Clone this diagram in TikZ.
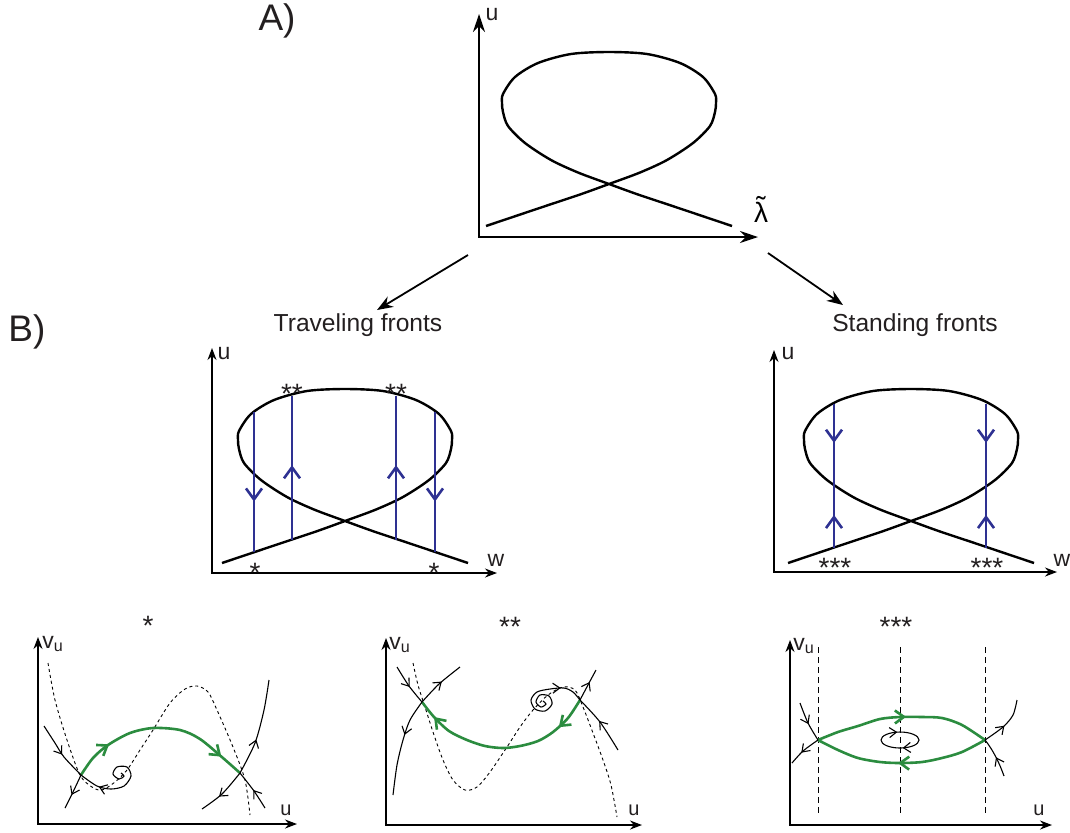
\documentclass[tikz,border=0pt]{standalone}
\usepackage{fontspec}
\setmainfont{Liberation Sans}
\usepackage{tikz}
\usetikzlibrary{arrows.meta,decorations.markings}
\definecolor{frblue}{HTML}{2E3192}
\definecolor{frgreen}{HTML}{2B8C3F}
\definecolor{frink}{HTML}{231F20}
\tikzset{
  axes/.style={{Stealth[length=6pt,width=4.5pt]}-{Stealth[length=6pt,width=4.5pt]}, line width=0.6pt},
  bigaxes/.style={{Stealth[length=9pt,width=6pt]}-{Stealth[length=9pt,width=6pt]}, line width=0.7pt},
  ar/.style={-{Stealth[length=8pt,width=6pt]}, line width=0.9pt},
  branch/.style={line width=1.2pt},
  jump/.style={draw=frblue, line width=1.3pt, >={Straight Barb[length=5.5pt,width=8pt]}},
  orbit/.style={draw=frgreen, line width=1.3pt, >={Straight Barb[length=4.5pt,width=6.5pt]}},
  mani/.style={line width=0.55pt, >={Straight Barb[length=3.5pt,width=5pt]}},
  ncline/.style={line width=0.45pt, dash pattern=on 1.5pt off 1.5pt},
  vline/.style={line width=0.45pt, dash pattern=on 3pt off 2pt},
  flow/.style={postaction={decorate, decoration={markings, mark=at position #1 with {\arrow{>}}}}},
  backflow/.style={postaction={decorate, decoration={markings, mark=at position #1 with {\arrowreversed{>}}}}},
  big/.style={font=\fontsize{18.5}{22}\selectfont, text=frink, inner sep=0pt},
  ttl/.style={font=\fontsize{12.3}{14}\selectfont, text=frink, inner sep=0pt},
  axl/.style={font=\fontsize{11.5}{13}\selectfont, text=frink, inner sep=0pt},
  sml/.style={font=\fontsize{10}{12}\selectfont, text=frink, inner sep=0pt},
  stars/.style={font=\fontsize{14}{16}\selectfont, text=frink, inner sep=0pt},
  frloop/.pic={
    \draw[branch] plot[smooth] coordinates {(0,0) (61,-20.5) (94,-31.5) (123,-42) (154,-53.5) (181,-66) (207,-83)
      (224,-100) (229,-114) (230,-123) (229,-132) (217,-149) (194,-163) (161,-172) (123,-174) (85,-172) (52,-163)
      (29,-149) (17,-132) (16,-123) (17,-114) (22,-100) (39,-83) (65,-66) (92,-53.5) (123,-42) (152,-31.5)
      (185,-20.5) (246,0)};
  },
}

\begin{document}
\begin{tikzpicture}[x=0.5pt,y=-0.5pt]
\useasboundingbox (0,0) rectangle (1070,832);

% --- A) bifurcation loop
\node[big] (labA) at (277,21) {A)};
\draw[bigaxes] (479,14) -- (479,237) -- (758,237);
\node[axl] (uA) at (492,15) {u};
\node[font=\fontsize{14}{16}\selectfont, inner sep=0pt] (lamA) at (761,212)
  {\ooalign{λ\cr\hidewidth\raisebox{0.2em}{\char"02DC}\hidewidth\cr}};
\pic (loopA) at (486,226) {frloop};

\coordinate (fromL) at (468,255); \coordinate (toL) at (377,310);
\coordinate (fromR) at (768,253); \coordinate (toR) at (843,305);
\draw[ar] (fromL) -- (toL);
\draw[ar] (fromR) -- (toR);

% --- B) front types
\node[big] (labB) at (27,332) {B)};
\node[ttl] (trav) at (358,325) {Traveling fronts};
\node[ttl] (stand) at (915,325) {Standing fronts};

% traveling fronts
\draw[axes] (212,348) -- (212,573) -- (497,573);
\node[axl] (uT) at (224,354) {u};
\node[axl] (wT) at (496,560) {w};
\pic (loopT) at (222,563) {frloop};
\draw[jump,flow=0.64] (254,412) -- (254,552);
\draw[jump,flow=0.52] (292,540) -- (292,396);
\draw[jump,flow=0.52] (396,540) -- (396,396);
\draw[jump,flow=0.64] (435,412) -- (435,552);
\node[stars] (sT1) at (292,394) {**};
\node[stars] (sT2) at (396,394) {**};
\node[stars] (sT3) at (255,573) {*};
\node[stars] (sT4) at (434,573) {*};

% standing fronts
\draw[axes] (774,350) -- (774,572) -- (1057,572);
\node[axl] (uS) at (788,354) {u};
\node[axl] (wS) at (1062,560) {w};
\pic (loopS) at (788,563) {frloop};
\draw[jump,flow=0.27,backflow=0.77] (834,404) -- (834,548);
\draw[jump,flow=0.27,backflow=0.77] (986,404) -- (986,548);
\node[stars] (sS1) at (835,568) {***};
\node[stars] (sS2) at (987,568) {***};

% --- phase planes
% *
\node[stars] (p1) at (148,626) {*};
\draw[axes] (38,637) -- (38,824) -- (297,824);
\node[axl] (v1) at (53,644) {v\textsubscript{u}};
\node[sml] (u1) at (286,810) {u};
\draw[ncline] plot[smooth] coordinates {(48,663) (55,700) (67,740) (80,775) (92,787) (102,790) (115,782) (127,770)
  (140,750) (153,730) (170,703) (185,689) (197,686) (208,692) (217,710) (233,747) (245,780) (250,815)};
\draw[orbit,flow=0.22,flow=0.87] plot[smooth] coordinates {(81,775) (93,758) (108,745) (130,733) (153,728) (180,730)
  (200,739) (223,758) (240,773)};
\draw[mani,flow=0.55] plot[smooth] coordinates {(44,726) (55,743) (64,757) (81,775)};
\draw[mani,flow=0.8] plot[smooth] coordinates {(121,773) (124,776) (119,779) (113,774) (117,767) (127,767) (131,776)
  (124,786) (111,789) (97,786) (81,775)};
\draw[mani,flow=0.6] plot[smooth] coordinates {(81,775) (73,792) (65,808)};
\draw[mani,flow=0.6] plot[smooth] coordinates {(240,773) (222,794) (202,809)};
\draw[mani,flow=0.38] plot[smooth] coordinates {(240,773) (255,743) (264,710) (269,680)};
\draw[mani,flow=0.5] plot[smooth] coordinates {(265,808) (254,791) (240,773)};

% **
\node[stars] (p2) at (510,627) {**};
\draw[axes] (386,638) -- (386,825) -- (642,825);
\node[axl] (v2) at (400,645) {v\textsubscript{u}};
\node[sml] (u2) at (634,810) {u};
\draw[ncline] plot[smooth] coordinates {(413,663) (418,685) (425,707) (434,735) (443,760) (453,780) (465,790) (477,787)
  (490,772) (507,747) (520,727) (533,710) (548,695) (563,687) (575,690) (583,707) (593,733) (603,760) (611,785) (617,817)};
\draw[orbit,flow=0.18,flow=0.9] plot[smooth] coordinates {(580,700) (568,718) (553,732) (538,741) (520,746) (503,748)
  (485,746) (467,740) (449,731) (434,717) (422,702)};
\draw[mani,flow=0.55] plot[smooth] coordinates {(397,667) (409,686) (422,702)};
\draw[mani,flow=0.55] plot[smooth] coordinates {(422,702) (439,684) (460,667)};
\draw[mani,flow=0.38] plot[smooth] coordinates {(422,702) (410,720) (403,740) (397,765) (393,795)};
\draw[mani,flow=0.82] plot[smooth] coordinates {(543,701) (546,704) (541,707) (536,702) (540,695) (549,696) (552,704)
  (545,711) (535,709) (531,700) (537,692) (550,689) (564,688) (573,692) (580,700)};
\draw[mani,flow=0.55] plot[smooth] coordinates {(618,750) (600,722) (580,700)};
\draw[mani,flow=0.6] plot[smooth] coordinates {(580,700) (589,683) (596,670)};

% ***
\node[stars] (p3) at (896,627) {***};
\draw[axes] (790,640) -- (790,825) -- (1052,825);
\node[axl] (v3) at (804,646) {v\textsubscript{u}};
\node[sml] (u3) at (1039,810) {u};
\foreach \xv in {818,900,985} \draw[vline] (\xv,647) -- (\xv,813);
\draw[orbit,flow=0.52] plot[smooth] coordinates {(818,740) (838,732) (858,726) (880,719) (900,717) (922,717) (942,718)
  (962,725) (985,740)};
\draw[orbit,flow=0.52] plot[smooth] coordinates {(985,740) (962,752) (942,758) (922,762) (900,763) (880,762) (858,758)
  (838,750) (818,740)};
\draw[mani,flow=0.55] plot[smooth] coordinates {(800,703) (808,723) (818,740)};
\draw[mani,flow=0.6] plot[smooth] coordinates {(818,740) (803,751) (792,763)};
\draw[mani,flow=0.45] plot[smooth] coordinates {(985,740) (1003,727) (1013,715) (1017,700)};
\draw[mani,flow=0.5] (1004,776) .. controls (999,762) and (993,750) .. (985,740);
\draw[mani,flow=0.22,flow=0.72] (900,740) ellipse [x radius=19, y radius=8];
\end{tikzpicture}
\end{document}
